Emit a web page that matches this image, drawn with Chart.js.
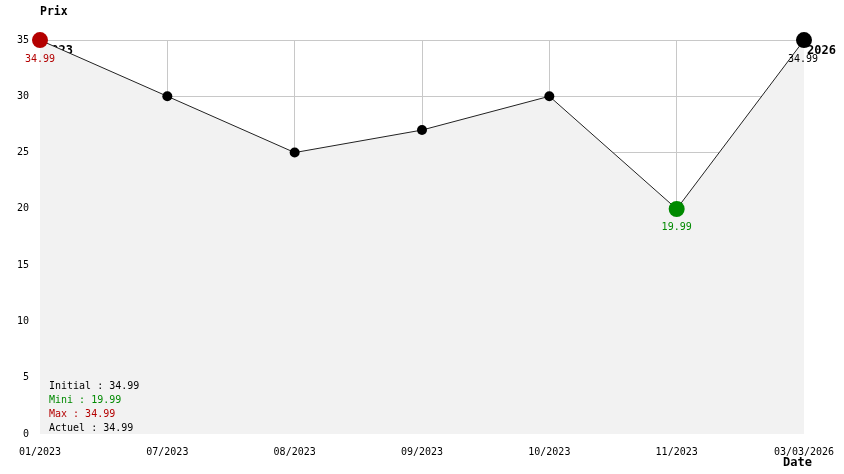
<!DOCTYPE html>
<html>
<head>
<meta charset="utf-8">
<script src="https://cdn.jsdelivr.net/npm/chart.js@4/dist/chart.umd.min.js"></script>
<style>
  html, body { margin: 0; padding: 0; background: #fff; }
  #wrap { width: 844px; height: 474px; }
</style>
</head>
<body>
<div id="wrap"><canvas id="priceChart" width="844" height="474"></canvas></div>
<script>
// price history
const dateLabels = ["01/2023", "07/2023", "08/2023", "09/2023", "10/2023", "11/2023", "03/03/2026"];
const prices = [34.99, 30, 25, 27, 30, 19.99, 34.99];
const yTicks = [0, 5, 10, 15, 20, 25, 30, 35];
const summaryLabels = ["Initial", "Mini", "Max", "Actuel"];
const summaryValues = [34.99, 19.99, 34.99, 34.99];

const MONO = "'DejaVu Sans Mono', 'Liberation Mono', monospace";
const RED = "#b40000";
const GREEN = "#008a00";

const lastIdx = prices.length - 1;
const minIdx = prices.indexOf(Math.min(...prices));
const maxIdx = prices.indexOf(Math.max(...prices));

// bigger dots for first / min / last, colored by role
const radii = prices.map((v, i) => (i == 0 || i == minIdx || i == lastIdx) ? 8 : 5);
const dotColors = prices.map((v, i) => {
    if (i == maxIdx) return RED;
    if (i == minIdx) return GREEN;
    return "#000";
});

function txt(ctx, s, x, y, color, font, align) {
    ctx.fillStyle = color;
    ctx.font = font;
    ctx.textAlign = align || "left";
    ctx.textBaseline = "middle";
    ctx.fillText(s, x, y);
}

const labelsPlugin = {
    id: "priceLabels",
    beforeDatasetsDraw(chart) {
        // year tag of the first point, partly hidden by the fill
        const ctx = chart.ctx;
        const p0 = chart.getDatasetMeta(0).data[0];
        ctx.save();
        txt(ctx, "2023", p0.x + 4, p0.y + 11, "#000", "bold 12px " + MONO);
        ctx.restore();
    },
    afterDraw(chart) {
        const ctx = chart.ctx;
        const meta = chart.getDatasetMeta(0);
        const area = chart.chartArea;
        ctx.save();

        // axis titles
        txt(ctx, "Prix", area.left, 12, "#000", "bold 11.5px " + MONO);
        txt(ctx, "Date", area.right - 21, 463, "#000", "bold 12px " + MONO);

        // value tags under first / min / last
        const p0 = meta.data[0], pm = meta.data[minIdx], pl = meta.data[lastIdx];
        txt(ctx, prices[0].toFixed(2), p0.x, p0.y + 19, RED, "10px " + MONO, "center");
        txt(ctx, prices[minIdx].toFixed(2), pm.x, pm.y + 18, GREEN, "10px " + MONO, "center");
        txt(ctx, prices[lastIdx].toFixed(2), pl.x - 1, pl.y + 19, "#000", "10px " + MONO, "center");
        txt(ctx, "2026", pl.x + 3, pl.y + 11, "#000", "bold 12px " + MONO);

        // summary box, bottom left
        const colors = ["#000", GREEN, RED, "#000"];
        for (let i = 0; i < summaryLabels.length; i++) {
            txt(ctx, summaryLabels[i] + " : " + summaryValues[i].toFixed(2),
                area.left + 9, 386 + i * 14, colors[i], "10px " + MONO);
        }
        ctx.restore();
    }
};

const config = {
    type: "line",
    data: {
        labels: dateLabels,
        datasets: [{
            data: prices,
            borderColor: "#222",
            borderWidth: 1,
            backgroundColor: "#f2f2f2",
            fill: "origin",
            tension: 0,
            clip: false,
            pointRadius: radii,
            pointHoverRadius: radii,
            pointBackgroundColor: dotColors,
            pointBorderColor: dotColors,
            pointBorderWidth: 0
        }]
    },
    options: {
        responsive: false,
        animation: false,
        events: [],
        layout: { padding: { top: 40, right: 40, left: 0, bottom: 0 } },
        plugins: {
            legend: { display: false },
            tooltip: { enabled: false }
        },
        scales: {
            x: {
                offset: false,
                border: { display: false },
                grid: {
                    color: (c) => (c.index == 0 || c.index == lastIdx) ? "rgba(0,0,0,0)" : "#c8c8c8",
                    lineWidth: 1,
                    drawTicks: false
                },
                ticks: {
                    color: "#000",
                    font: { family: MONO, size: 10 },
                    maxRotation: 0,
                    autoSkip: false,
                    padding: 12
                },
                afterFit: (s) => {
                    s.height = 40;
                    // labels may overflow the edges, keep the plot where it is
                    s.paddingLeft = 0;
                    s.paddingRight = 0;
                }
            },
            y: {
                min: yTicks[0],
                max: yTicks[yTicks.length - 1],
                border: { display: false },
                grid: {
                    color: (c) => (c.tick && c.tick.value == 0) ? "rgba(0,0,0,0)" : "#c8c8c8",
                    lineWidth: 1,
                    drawTicks: false
                },
                afterBuildTicks: (s) => { s.ticks = yTicks.map(v => ({ value: v })); },
                ticks: {
                    color: "#000",
                    font: { family: MONO, size: 10 },
                    padding: 11
                },
                afterFit: (s) => {
                    s.width = 40;
                    s.paddingTop = 0;
                    s.paddingBottom = 0;
                }
            }
        }
    },
    plugins: [labelsPlugin]
};

new Chart(document.getElementById("priceChart"), config);
</script>
</body>
</html>
